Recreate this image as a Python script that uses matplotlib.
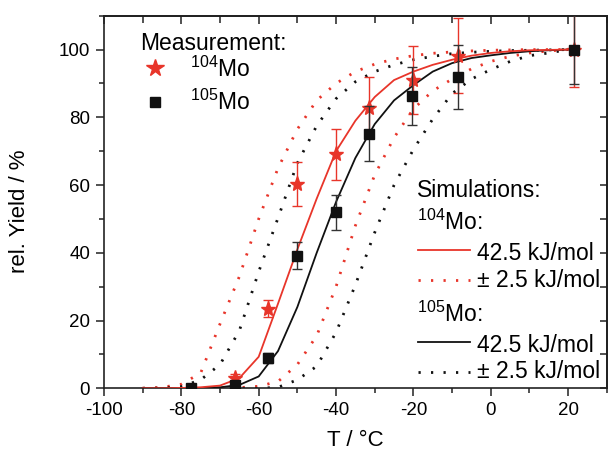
import matplotlib
matplotlib.use("Agg")
import matplotlib.pyplot as plt
from matplotlib.ticker import MultipleLocator, NullFormatter

plt.rcParams['font.family'] = ['Liberation Sans', 'DejaVu Sans']
plt.rcParams['mathtext.fontset'] = 'custom'
plt.rcParams['mathtext.rm'] = 'Liberation Sans'
plt.rcParams['mathtext.default'] = 'regular'
plt.rcParams['axes.unicode_minus'] = False

RED = '#e8352a'
BLK = '#111111'

# ---- measured data ----
T104 = [-66, -57.5, -50, -40, -31.5, -20, -8.5, 21.5]
Y104 = [3, 23.5, 60.3, 69.1, 82.8, 91, 98.2, 100]
E104 = [1.2, 2.5, 6.5, 7.5, 9, 10, 11, 11]

T105 = [-77.5, -66, -57.5, -50, -40, -31.5, -20.3, -8.5, 21.5]
Y105 = [0, 1, 9, 39.2, 52, 75.2, 86.3, 91.9, 100]
E105 = [0.5, 1, 1.5, 4, 5.2, 8, 8.7, 9.4, 10.3]

# ---- simulations ----
T_sim = [-90, -85, -80, -75, -70, -65, -60, -55, -50, -45, -40, -35,
         -30, -25, -20, -15, -10, -5, 0, 5, 10, 15, 20]
sim104 = [0, 0, 0.1, 0.3, 0.8, 3, 9.3, 25, 41, 56, 70, 79,
          86, 91, 93.5, 95.5, 97, 98.2, 99, 99.5, 99.8, 99.9, 100]
sim104_lo = [0, 0.3, 1.2, 4.5, 19, 33, 50, 65, 76.5, 85, 90, 93.5,
             95.7, 97.2, 98.2, 98.9, 99.3, 99.6, 99.8, 99.9, 100, 100, 100]
sim104_hi = [0, 0, 0, 0, 0, 0.2, 0.6, 2, 7, 15.5, 30, 48,
             63, 74, 82.5, 87.8, 91.3, 94.3, 96.5, 98, 99, 99.6, 100]
sim105 = [0, 0, 0, 0.1, 0.3, 1, 3.5, 11, 24, 40, 55, 68,
          78, 85, 89.5, 93.5, 96, 97.5, 98.3, 99, 99.5, 99.8, 100]
sim105_lo = [0, 0, 0.5, 2.5, 7, 17, 34.4, 50.3, 66.5, 77.5, 85.5, 90.5,
             93.5, 95.5, 97, 98, 98.8, 99.2, 99.5, 99.7, 99.8, 99.9, 100]
sim105_hi = [0, 0, 0, 0, 0, 0, 0, 0.3, 2.5, 6.5, 16.5, 30.5,
             46, 60, 70.5, 79.5, 87, 91.3, 94.1, 96.5, 98.2, 99, 100]

DOT = (0, (0.8, 3.7))

fig = plt.figure(figsize=(6.08, 4.54), dpi=100)
ax = fig.add_axes([0.171, 0.1447, 0.827, 0.8207])

ax.plot(T_sim, sim104_lo, color=RED, lw=2, ls=DOT, zorder=2)
ax.plot(T_sim, sim104_hi, color=RED, lw=2, ls=DOT, zorder=2)
ax.plot(T_sim, sim105_lo, color=BLK, lw=2, ls=DOT, zorder=2)
ax.plot(T_sim, sim105_hi, color=BLK, lw=2, ls=DOT, zorder=2)
ax.plot(T_sim, sim105, color=BLK, lw=1.3, zorder=3)
ax.plot(T_sim, sim104, color=RED, lw=1.3, zorder=3)

ax.errorbar(T104, Y104, yerr=E104, fmt='*', color=RED, ms=11, mec=RED,
            ecolor=RED, elinewidth=1, capsize=3.5, capthick=1, zorder=4)
ax.errorbar(T105, Y105, yerr=E105, fmt='s', color=BLK, ms=7.5, mec=BLK,
            ecolor='#333333', elinewidth=1, capsize=3.5, capthick=1, zorder=5)

ax.set_xlim(-100, 30)
ax.set_ylim(0, 110)
ax.xaxis.set_major_locator(MultipleLocator(20))
ax.xaxis.set_minor_locator(MultipleLocator(10))
ax.yaxis.set_major_locator(MultipleLocator(20))
ax.yaxis.set_minor_locator(MultipleLocator(10))
ax.set_xticks(range(-100, 21, 20))
ax.set_yticks(range(0, 101, 20))
ax.tick_params(which='major', direction='out', length=6, width=1.1,
               labelsize=13.5, pad=4, color='#222222')
ax.tick_params(which='minor', direction='out', length=3.5, width=1.1,
               color='#222222')
for s in ax.spines.values():
    s.set_linewidth(1.2)
    s.set_color('#222222')

secx = ax.secondary_xaxis('top')
secx.xaxis.set_major_locator(MultipleLocator(20))
secx.xaxis.set_minor_locator(MultipleLocator(10))
secx.xaxis.set_major_formatter(NullFormatter())
secx.tick_params(which='major', direction='in', length=6, width=1.1, color='#222222')
secx.tick_params(which='minor', direction='in', length=5, width=1.1, color='#222222')
secx.spines['top'].set_linewidth(1.2)

secy = ax.secondary_yaxis('right')
secy.yaxis.set_major_locator(MultipleLocator(20))
secy.yaxis.set_minor_locator(MultipleLocator(10))
secy.yaxis.set_major_formatter(NullFormatter())
secy.tick_params(which='major', direction='in', length=5, width=1.1, color='#222222')
secy.tick_params(which='minor', direction='in', length=5, width=1.1, color='#222222')
secy.spines['right'].set_linewidth(1.2)

ax.set_xlabel('T / °C', fontsize=16)
ax.set_ylabel('rel. Yield / %', fontsize=16)
ax.xaxis.set_label_coords(0.5, -0.112)
ax.yaxis.set_label_coords(-0.148, 0.476)

# ---- legend (drawn manually) ----
tr = ax.transAxes
FS = 16.5
ax.text(0.0716, 0.908, 'Measurement:', transform=tr, fontsize=FS, va='baseline')
ax.plot([0.1014], [0.860], '*', color=RED, ms=13, transform=tr, clip_on=False)
ax.text(0.171, 0.836, r'$^{104}$Mo', transform=tr, fontsize=FS, va='baseline')
ax.plot([0.1014], [0.768], 's', color=BLK, ms=7.5, transform=tr, clip_on=False)
ax.text(0.171, 0.747, r'$^{105}$Mo', transform=tr, fontsize=FS, va='baseline')

ax.text(0.622, 0.514, 'Simulations:', transform=tr, fontsize=FS, va='baseline')
ax.text(0.622, 0.425, r'$^{104}$Mo:', transform=tr, fontsize=FS, va='baseline')
ax.plot([0.624, 0.728], [0.371, 0.371], color=RED, lw=1.3, transform=tr)
ax.text(0.741, 0.344, '42.5 kJ/mol', transform=tr, fontsize=FS, va='baseline')
ax.plot([0.624, 0.728], [0.291, 0.291], color=RED, lw=2, ls=DOT, transform=tr)
ax.text(0.741, 0.272, '± 2.5 kJ/mol', transform=tr, fontsize=FS, va='baseline')
ax.text(0.622, 0.179, r'$^{105}$Mo:', transform=tr, fontsize=FS, va='baseline')
ax.plot([0.624, 0.728], [0.125, 0.125], color=BLK, lw=1.3, transform=tr)
ax.text(0.741, 0.098, '42.5 kJ/mol', transform=tr, fontsize=FS, va='baseline')
ax.plot([0.624, 0.728], [0.0446, 0.0446], color=BLK, lw=2, ls=DOT, transform=tr)
ax.text(0.741, 0.027, '± 2.5 kJ/mol', transform=tr, fontsize=FS, va='baseline')

fig.savefig('out.png', dpi=100)
